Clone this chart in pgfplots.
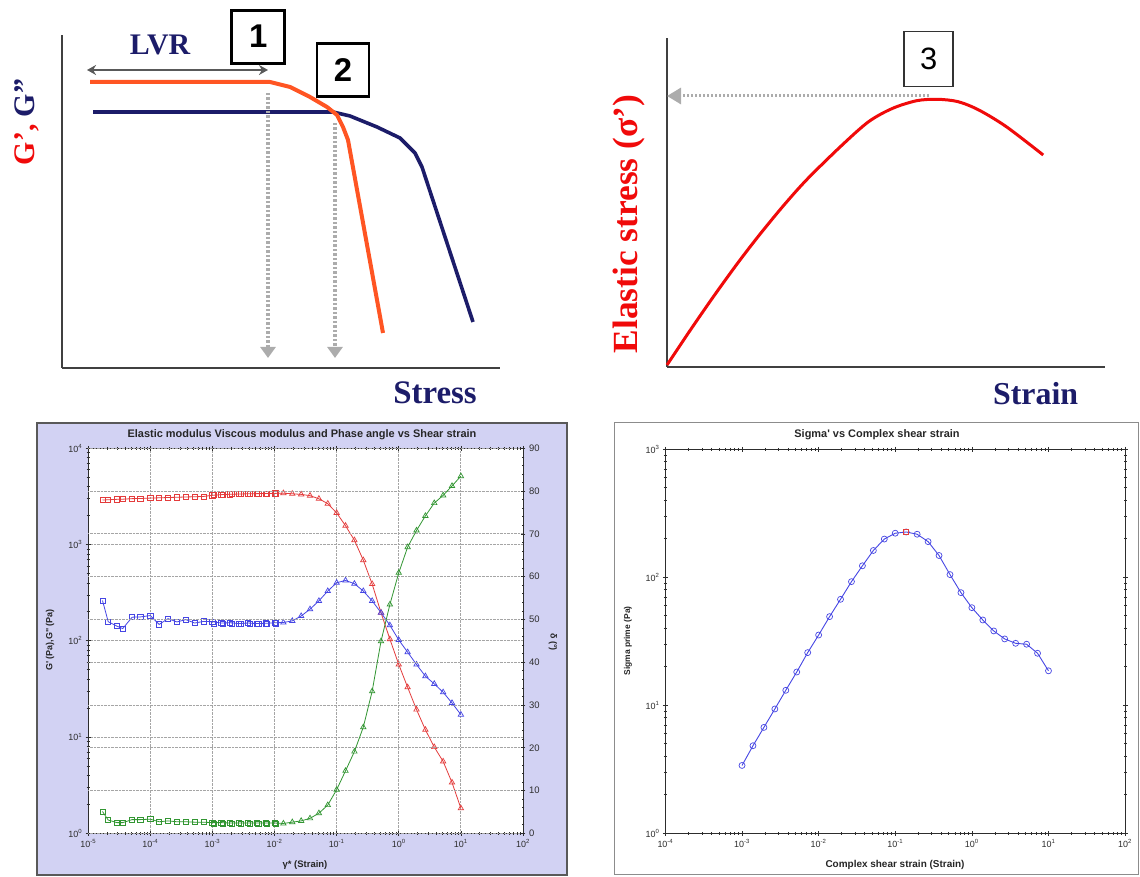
\documentclass[border=0pt]{standalone}
\usepackage{fontspec}
\setmainfont{Liberation Serif}
\newfontfamily\arialf{Liberation Sans}
\usepackage{pgfplots}
\usepackage{pgfplotstable}
\pgfplotsset{compat=1.18}
\usetikzlibrary{arrows.meta}
\definecolor{orangeC}{RGB}{255,85,35}
\definecolor{navyC}{RGB}{28,28,105}
\definecolor{redC}{RGB}{240,10,10}
\definecolor{lav}{RGB}{210,210,243}
\definecolor{pr}{RGB}{228,60,60}
\definecolor{pb}{RGB}{70,70,228}
\definecolor{pg}{RGB}{50,150,50}
\definecolor{gridc}{RGB}{165,165,165}
\definecolor{tickc}{RGB}{45,45,45}

\pgfplotstableread{
x gp gpp delta
1.7e-5 2900 262 5.1
2.1e-5 2920 158 3.1
2.9e-5 2950 142 2.5
3.6e-5 2960 134 2.5
5.1e-5 3000 176 3.2
6.9e-5 3010 177 3.2
1.0e-4 3040 183 3.3
1.39e-4 3060 148 2.7
1.93e-4 3080 170 2.9
2.68e-4 3100 157 2.7
3.73e-4 3120 166 2.7
5.18e-4 3140 153 2.6
7.2e-4 3160 159 2.6
1.0e-3 3250 158 2.5
1.39e-3 3300 153 2.5
1.93e-3 3330 154 2.4
2.68e-3 3350 151 2.4
3.73e-3 3370 153 2.4
5.18e-3 3380 151 2.4
7.2e-3 3390 152 2.4
1.0e-2 3400 154 2.4
}\sqA
\pgfplotstableread{
x gp gpp delta
1.06e-3 3270 150 2.3
1.47e-3 3310 149 2.3
2.05e-3 3340 150 2.3
2.84e-3 3360 150 2.3
3.95e-3 3375 149 2.3
5.49e-3 3385 150 2.3
7.63e-3 3395 150 2.3
1.06e-2 3405 152 2.3
}\sqB
\pgfplotstableread{
x gp gpp delta
0.01 3400 154 2.4
0.01389 3420 155 2.3
0.01931 3370 161 2.6
0.02683 3320 181 2.9
0.03728 3220 213 3.5
0.05179 2990 260 4.7
0.07197 2660 329 6.6
0.1 2130 401 10.2
0.1389 1570 424 14.6
0.1931 1110 392 19.1
0.2683 689 329 24.8
0.3728 389 260 33.2
0.5179 196 196 44.9
0.7197 104 145 53.5
1.0 56.7 102 60.9
1.389 32.9 76.2 66.9
1.931 19.3 56.7 70.8
2.683 11.9 42.9 74.2
3.728 7.87 35.7 77.2
5.179 5.58 29.2 79.0
7.197 3.37 22.6 81.2
10 1.82 17.1 83.5
}\triA
\pgfplotstableread{
x s
0.001 3.39
0.0013895 4.83
0.0019307 6.72
0.0026827 9.36
0.0037276 13.1
0.0051795 18.2
0.0071969 25.8
0.01 35.4
0.013895 49.3
0.019307 67.3
0.026827 92.5
0.037276 123
0.051795 162
0.071969 199
0.1 221
0.13895 226
0.19307 217
0.26827 190
0.37276 148
0.51795 105
0.71969 75.9
1 57.9
1.3895 46.4
1.9307 38.1
2.6827 33.0
3.7276 30.5
5.1795 30.0
7.1969 25.5
10 18.6
}\sig

\begin{document}
\begin{tikzpicture}
\useasboundingbox (0bp,0bp) rectangle (1140bp,877bp);

% ================= top-left schematic =================
\begin{axis}[at={(62bp,509bp)}, anchor=south west, scale only axis,
  width=438bp, height=333bp, xmin=62, xmax=500, ymin=509, ymax=842,
  axis x line=bottom, axis y line=left,
  axis line style={-, line width=2.5bp, black!75},
  xtick=\empty, ytick=\empty, clip=false]
\addplot[navyC, line width=3.6bp, line join=round] coordinates
 {(93,765)(333,765)(350,761)(377,750)(400,739)(415,724)(422,710)(473,555)};
\addplot[orangeC, line width=4bp, line join=round] coordinates
 {(90,795)(270,795)(290,790)(310,780)(327,770)(337,762)(343,750)(348,737)(383,544)};
\draw[black!65, line width=2.5bp, {Stealth[length=9bp,width=10bp]}-{Stealth[length=9bp,width=10bp]}] (87,807) -- (268,807);
\draw[gray!65, line width=4bp, dash pattern=on 2.5bp off 2bp, -{Triangle[length=11bp,width=15bp]}] (268,784) -- (268,519);
\draw[gray!65, line width=4bp, dash pattern=on 2.5bp off 2bp, -{Triangle[length=11bp,width=15bp]}] (335,754) -- (335,519);
\node[draw=black, line width=2.8bp, fill=white, minimum width=53bp, minimum height=53bp, inner sep=0pt,
  font=\arialf\bfseries\fontsize{33}{33}\selectfont] at (258.3,840.3) {1};
\node[draw=black, line width=2.8bp, fill=white, minimum width=52bp, minimum height=53bp, inner sep=0pt,
  font=\arialf\bfseries\fontsize{33}{33}\selectfont] at (343,807) {2};
\end{axis}
\node[navyC, font=\bfseries\fontsize{30}{30}\selectfont] at (160bp,832bp) {LVR};
\node[rotate=90, font=\bfseries\fontsize{30}{30}\selectfont] at (27bp,755bp) {\textcolor{redC}{G’,} \textcolor{navyC}{G”}};
\node[navyC, font=\bfseries\fontsize{33}{33}\selectfont] at (435bp,484bp) {Stress};

% ================= top-right schematic =================
\begin{axis}[at={(666.5bp,510.3bp)}, anchor=south west, scale only axis,
  width=438bp, height=328.4bp, xmin=666.5, xmax=1104.5, ymin=510.3, ymax=838.7,
  axis x line=bottom, axis y line=left,
  axis line style={-, line width=2bp, black!75},
  xtick=\empty, ytick=\empty, clip=false]
\addplot[redC, line width=3bp, smooth] coordinates
 {(667,512)(689.5,545.7)(713.6,580.6)(737.7,613.9)(758.4,640.8)(782.5,670.2)(806.6,697.2)(841.0,730.9)(868.6,755.3)(892.7,768.7)(916.8,776.3)(937.5,777.7)(958.1,775.3)(978.8,767)(1006.3,750.3)(1043.2,722)};
\draw[gray!65, line width=3bp, dash pattern=on 2bp off 2bp, -{Triangle[length=14bp,width=16bp]}] (929,781) -- (667,781);
\node[draw=black!80, line width=1.3bp, fill=white, minimum width=49bp, minimum height=55bp, inner sep=0pt,
  font=\arialf\fontsize{31}{31}\selectfont] at (928.6,817.8) {3};
\end{axis}
\node[rotate=90, redC, font=\bfseries\fontsize{35.5}{35.5}\selectfont] at (629.3bp,653bp) {Elastic stress (σ’)};
\node[navyC, font=\bfseries\fontsize{32}{32}\selectfont] at (1035.6bp,483.7bp) {Strain};

% ================= bottom-left chart =================
\draw[fill=lav, draw=black!65, line width=1.2bp] (37bp,2bp) rectangle (567bp,454bp);
\begin{axis}[at={(88.2bp,43.7bp)}, anchor=south west, scale only axis,
  width=434.8bp, height=385bp,
  xmode=log, ymode=log, xmin=1e-5, xmax=1e2, ymin=1, ymax=1e4,
  axis background/.style={fill=white},
  ytick pos=left,
  axis line style={tickc, line width=0.9bp},
  tick align=center, major tick length=5bp, minor tick length=3bp,
  every tick/.style={tickc, line width=0.7bp},
  xtick={1e-5,1e-4,1e-3,1e-2,1e-1,1,10,100},
  xticklabels={10\textsuperscript{-5},10\textsuperscript{-4},10\textsuperscript{-3},10\textsuperscript{-2},10\textsuperscript{-1},10\textsuperscript{0},10\textsuperscript{1},10\textsuperscript{2}},
  ytick={1,10,100,1000,10000},
  yticklabels={10\textsuperscript{0},10\textsuperscript{1},10\textsuperscript{2},10\textsuperscript{3},10\textsuperscript{4}},
  tick label style={font=\arialf\fontsize{9}{9}\selectfont, text=tickc},
  grid=major, major grid style={densely dotted, gridc, line width=0.8bp}]
\addplot[pr, line width=0.8bp, mark=square, mark size=2.6bp, mark options={solid, line width=0.7bp}] table[x=x,y=gp]{\sqA};
\addplot[pr, only marks, mark=square, mark size=2.6bp, mark options={line width=0.7bp}] table[x=x,y=gp]{\sqB};
\addplot[pr, line width=0.8bp, mark=triangle, mark size=3.1bp, mark options={solid, line width=0.7bp},
  mark indices={2,3,4,5,6,7,8,9,10,11,12,13,14,15,16,17,18,19,20,21,22}] table[x=x,y=gp]{\triA};
\addplot[pb, line width=0.8bp, mark=square, mark size=2.6bp, mark options={solid, line width=0.7bp}] table[x=x,y=gpp]{\sqA};
\addplot[pb, only marks, mark=square, mark size=2.6bp, mark options={line width=0.7bp}] table[x=x,y=gpp]{\sqB};
\addplot[pb, line width=0.8bp, mark=triangle, mark size=3.1bp, mark options={solid, line width=0.7bp},
  mark indices={2,3,4,5,6,7,8,9,10,11,12,13,14,15,16,17,18,19,20,21,22}] table[x=x,y=gpp]{\triA};
\end{axis}
\begin{axis}[at={(88.2bp,43.7bp)}, anchor=south west, scale only axis,
  width=434.8bp, height=385bp,
  xmode=log, xmin=1e-5, xmax=1e2, ymin=0, ymax=90,
  axis x line=none, axis y line*=right,
  axis line style={tickc, line width=0.9bp},
  tick align=center, major tick length=5bp, minor tick length=3bp,
  every tick/.style={tickc, line width=0.7bp},
  ytick={0,10,...,90}, minor y tick num=4,
  /pgf/number format/assume math mode=true,
  tick label style={font=\arialf\fontsize{9.5}{9.5}\selectfont, text=tickc},
  ymajorgrids, major grid style={densely dotted, gridc, line width=0.8bp}]
\addplot[pg, line width=0.8bp, mark=square, mark size=2.6bp, mark options={solid, line width=0.7bp}] table[x=x,y=delta]{\sqA};
\addplot[pg, only marks, mark=square, mark size=2.6bp, mark options={line width=0.7bp}] table[x=x,y=delta]{\sqB};
\addplot[pg, line width=0.8bp, mark=triangle, mark size=3.1bp, mark options={solid, line width=0.7bp},
  mark indices={2,3,4,5,6,7,8,9,10,11,12,13,14,15,16,17,18,19,20,21,22}] table[x=x,y=delta]{\triA};
\end{axis}
\node[font=\arialf\bfseries\fontsize{11}{11}\selectfont, text=black!85] at (302bp,442bp) {Elastic modulus Viscous modulus and Phase angle vs Shear strain};
\node[font=\arialf\bfseries\fontsize{9.5}{9.5}\selectfont, text=black!85] at (305bp,12bp) {γ* (Strain)};
\node[rotate=90, font=\arialf\bfseries\fontsize{9}{9}\selectfont, text=black!85] at (50bp,237bp) {G' (Pa),G" (Pa)};
\node[rotate=-90, font=\arialf\bfseries\fontsize{9}{9}\selectfont, text=black!85] at (553bp,235bp) {δ (°)};

% ================= bottom-right chart =================
\draw[fill=white, draw=black!45, line width=1bp] (614bp,2bp) rectangle (1138.5bp,454bp);
\begin{axis}[at={(665.4bp,43.7bp)}, anchor=south west, scale only axis,
  width=459.7bp, height=384bp,
  xmode=log, ymode=log, xmin=1e-4, xmax=1e2, ymin=1, ymax=1e3,
  axis line style={tickc, line width=0.9bp},
  tick align=center, major tick length=5bp, minor tick length=3bp,
  every tick/.style={tickc, line width=0.7bp},
  xtick={1e-4,1e-3,1e-2,1e-1,1,10,100},
  xticklabels={10\textsuperscript{-4},10\textsuperscript{-3},10\textsuperscript{-2},10\textsuperscript{-1},10\textsuperscript{0},10\textsuperscript{1},10\textsuperscript{2}},
  ytick={1,10,100,1000},
  yticklabels={10\textsuperscript{0},10\textsuperscript{1},10\textsuperscript{2},10\textsuperscript{3}},
  tick label style={font=\arialf\fontsize{9}{9}\selectfont, text=tickc}]
\addplot[pb, line width=0.9bp, mark=o, mark size=3bp, mark options={solid, line width=0.7bp}] table[x=x,y=s]{\sig};
\addplot[pr, only marks, mark=square, mark size=2.6bp, mark options={line width=0.8bp}, mark indices={16}] table[x=x,y=s]{\sig};
\end{axis}
\node[font=\arialf\bfseries\fontsize{11}{11}\selectfont, text=black!85] at (877bp,442bp) {Sigma' vs Complex shear strain};
\node[font=\arialf\bfseries\fontsize{10}{10}\selectfont, text=black!85] at (895bp,12bp) {Complex shear strain (Strain)};
\node[rotate=90, font=\arialf\bfseries\fontsize{8.5}{8.5}\selectfont, text=black!85] at (628bp,236bp) {Sigma prime (Pa)};
\end{tikzpicture}
\end{document}
